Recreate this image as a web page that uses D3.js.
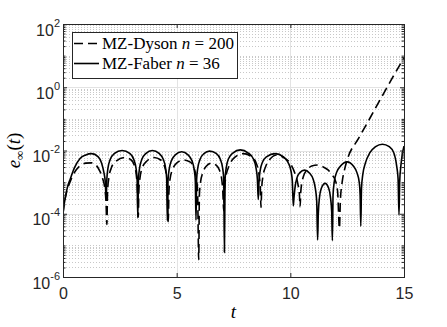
<!DOCTYPE html>
<html>
<head>
<meta charset="utf-8">
<script src="https://cdn.jsdelivr.net/npm/d3@7"></script>
<style>
  body { margin: 0; background: #fff; }
  .tick text { font-family: "Liberation Sans", Arial, sans-serif; font-size: 16px; fill: #262626; }
  .serif { font-family: "Liberation Serif", "Times New Roman", serif; fill: #000; }
</style>
</head>
<body>
<svg id="chart" width="447" height="327"></svg>
<script>
// values; errors are kept as log10(e) (decades)
var tDyson = [0,0.04,0.1,0.2,0.32,0.5,0.75,1.0,1.25,1.45,1.62,1.75,1.84,1.89,1.93,
  1.96,2.01,2.12,2.3,2.7,3.0,3.13,3.22,3.27,3.31,
  3.34,3.39,3.5,3.68,4.0,4.3,4.44,4.54,4.59,4.63,
  4.66,4.71,4.82,5.0,5.3,5.6,5.76,5.86,5.92,5.97,
  6.0,6.05,6.15,6.3,6.54,6.75,6.88,6.98,7.03,7.07,
  7.1,7.16,7.3,7.55,7.93,8.3,8.5,8.62,8.68,8.71,
  8.74,8.8,8.92,9.1,9.4,9.7,9.99,10.2,10.33,10.4,10.43,
  10.46,10.57,10.75,10.94,11.2,11.45,11.67,11.85,11.97,12.08,12.16,
  12.2,12.28,12.38,12.5,13.0,13.5,14.0,14.5,15.0];
var logDyson = [-4.0,-3.75,-3.5,-3.2,-2.98,-2.7,-2.48,-2.4,-2.39,-2.46,-2.65,-2.9,-3.2,-3.6,-4.34,
  -3.3,-2.9,-2.56,-2.36,-2.22,-2.3,-2.45,-2.75,-3.2,-4.1,
  -3.2,-2.85,-2.52,-2.34,-2.22,-2.3,-2.45,-2.75,-3.2,-4.25,
  -3.3,-2.9,-2.6,-2.4,-2.3,-2.37,-2.55,-2.85,-3.3,-5.45,
  -3.4,-3.0,-2.7,-2.5,-2.4,-2.47,-2.62,-2.9,-3.3,-3.9,
  -3.3,-2.85,-2.5,-2.22,-2.1,-2.2,-2.4,-2.75,-3.2,-3.8,
  -3.2,-2.8,-2.5,-2.28,-2.14,-2.22,-2.4,-2.72,-3.05,-3.4,-3.78,
  -3.3,-2.83,-2.6,-2.49,-2.46,-2.52,-2.62,-2.78,-2.93,-3.3,-4.46,
  -3.6,-3.0,-2.62,-2.3,-1.62,-0.98,-0.33,0.31,0.93];

var tFaber = [0,0.04,0.1,0.2,0.32,0.5,0.75,1.0,1.26,1.55,1.7,1.8,1.86,1.90,
  1.93,1.98,2.08,2.25,2.6,2.95,3.11,3.21,3.26,3.29,
  3.32,3.37,3.47,3.64,3.93,4.24,4.41,4.51,4.56,4.59,
  4.62,4.67,4.77,4.94,5.22,5.5,5.67,5.77,5.82,5.85,
  5.88,5.93,6.03,6.2,6.45,6.75,6.92,7.02,7.07,7.10,
  7.13,7.18,7.28,7.47,7.8,8.15,8.37,8.49,8.55,8.59,
  8.62,8.67,8.77,8.95,9.33,9.7,9.9,10.03,10.09,10.13,
  10.16,10.21,10.3,10.42,10.62,10.85,11.0,11.1,11.16,11.20,
  11.23,11.28,11.36,11.53,11.68,11.76,11.82,11.85,
  11.88,11.93,12.03,12.2,12.5,12.78,12.93,13.03,13.07,13.10,
  13.13,13.19,13.3,13.5,13.75,14.05,14.35,14.55,14.68,14.74,14.78,
  14.81,14.86,14.93,15.0];
var logFaber = [-4.0,-3.75,-3.5,-3.15,-2.9,-2.55,-2.25,-2.14,-2.1,-2.2,-2.4,-2.7,-3.0,-3.55,
  -2.9,-2.55,-2.28,-2.1,-2.0,-2.1,-2.28,-2.55,-2.9,-4.13,
  -2.9,-2.55,-2.28,-2.1,-2.0,-2.1,-2.28,-2.55,-2.9,-4.22,
  -2.95,-2.6,-2.32,-2.14,-2.04,-2.14,-2.32,-2.6,-2.95,-4.2,
  -2.9,-2.55,-2.28,-2.1,-2.02,-2.1,-2.28,-2.55,-2.9,-5.22,
  -2.9,-2.55,-2.26,-2.08,-1.98,-2.08,-2.26,-2.55,-2.9,-3.55,
  -3.0,-2.65,-2.38,-2.2,-2.1,-2.2,-2.38,-2.65,-3.0,-3.75,
  -3.5,-3.15,-2.85,-2.7,-2.62,-2.72,-2.9,-3.2,-3.6,-4.83,
  -4.0,-3.5,-3.2,-3.04,-3.18,-3.45,-3.95,-4.85,
  -3.4,-3.0,-2.7,-2.5,-2.36,-2.5,-2.7,-3.0,-3.4,-4.39,
  -3.2,-2.75,-2.4,-2.07,-1.88,-1.8,-1.88,-2.07,-2.5,-2.9,-4.04,
  -3.0,-2.5,-2.1,-1.86];

var xTicks = [0, 5, 10, 15];
var yDecades = [-6, -4, -2, 0, 2];   // labelled decades
var legendNames = ["MZ-Dyson ", "MZ-Faber "];
var legendN = ["200", "36"];

var svg = d3.select("#chart");
var plotL = 63, plotR = 404, plotT = 24, plotB = 277;

var x = d3.scaleLinear().domain([0, 15]).range([plotL, plotR]);
var y = d3.scaleLog().domain([1e-6, 1e2]).range([plotB, plotT]);

var majorY = yDecades.map(function(d) { return Math.pow(10, d); });
var minorY = [];
for (var d = -6; d < 2; d++) {
  for (var k = 1; k <= 9; k++) {
    if (k == 1 && d % 2 == 0) continue;
    minorY.push(k * Math.pow(10, d));
  }
}

// grid
var grid = svg.append("g");
grid.selectAll(".minor").data(minorY).enter().append("line")
    .attr("x1", plotL).attr("x2", plotR)
    .attr("y1", function(d) { return Math.round(y(d)) + 0.5; })
    .attr("y2", function(d) { return Math.round(y(d)) + 0.5; })
    .attr("stroke", "#c8c8c8").attr("stroke-width", 1)
    .attr("stroke-dasharray", "1,2");
grid.selectAll(".majy").data(majorY).enter().append("line")
    .attr("x1", plotL).attr("x2", plotR)
    .attr("y1", function(d) { return Math.round(y(d)) + 0.5; })
    .attr("y2", function(d) { return Math.round(y(d)) + 0.5; })
    .attr("stroke", "#e3e3e3").attr("stroke-width", 1);
grid.selectAll(".majx").data(xTicks).enter().append("line")
    .attr("y1", plotT).attr("y2", plotB)
    .attr("x1", function(d) { return Math.round(x(d)) + 0.5; })
    .attr("x2", function(d) { return Math.round(x(d)) + 0.5; })
    .attr("stroke", "#e3e3e3").attr("stroke-width", 1);

// curves
svg.append("clipPath").attr("id", "clip").append("rect")
    .attr("x", plotL).attr("y", plotT).attr("width", plotR - plotL).attr("height", plotB - plotT);

var line = d3.line()
    .x(function(d) { return x(d[0]); })
    .y(function(d) { return y(Math.pow(10, d[1])); })
    .curve(d3.curveMonotoneX);

var plot = svg.append("g").attr("clip-path", "url(#clip)");
plot.append("path")
    .datum(d3.zip(tDyson, logDyson))
    .attr("d", line)
    .attr("fill", "none").attr("stroke", "#000").attr("stroke-width", 1.6)
    .attr("stroke-dasharray", "9,5");
plot.append("path")
    .datum(d3.zip(tFaber, logFaber))
    .attr("d", line)
    .attr("fill", "none").attr("stroke", "#000").attr("stroke-width", 1.6);

// axes (ticks point inwards, box all round)
function noDomain(g) { g.select(".domain").remove(); g.selectAll(".tick line").attr("stroke", "#262626"); }

svg.append("g").attr("transform", "translate(0," + plotB + ")")
    .call(d3.axisBottom(x).tickValues(xTicks).tickSize(-4).tickPadding(11))
    .call(noDomain);
svg.append("g").attr("transform", "translate(0," + plotT + ")")
    .call(d3.axisTop(x).tickValues(xTicks).tickSize(-4).tickFormat(""))
    .call(noDomain);

var yl = svg.append("g").attr("transform", "translate(" + plotL + ",0)")
    .call(d3.axisLeft(y).tickValues(majorY).tickSize(-4).tickFormat(""))
    .call(noDomain);
svg.append("g").attr("transform", "translate(" + plotL + ",0)")
    .call(d3.axisLeft(y).tickValues(minorY).tickSize(-2.5).tickFormat(""))
    .call(noDomain);
svg.append("g").attr("transform", "translate(" + plotR + ",0)")
    .call(d3.axisRight(y).tickValues(majorY).tickSize(-4).tickFormat(""))
    .call(noDomain);
svg.append("g").attr("transform", "translate(" + plotR + ",0)")
    .call(d3.axisRight(y).tickValues(minorY).tickSize(-2.5).tickFormat(""))
    .call(noDomain);

// 10^k labels
yl.selectAll(".tick").append("text")
    .attr("x", -3).attr("y", 11)
    .attr("text-anchor", "end")
    .each(function(d) {
      var t = d3.select(this);
      t.append("tspan").text("10");
      t.append("tspan").attr("dy", -9).attr("font-size", "11px").text(Math.round(Math.log10(d)));
    });

svg.append("rect")
    .attr("x", plotL + 0.5).attr("y", plotT + 0.5)
    .attr("width", plotR - plotL).attr("height", plotB - plotT)
    .attr("fill", "none").attr("stroke", "#262626").attr("stroke-width", 1);

// axis titles
svg.append("text").attr("class", "serif")
    .attr("x", (plotL + plotR) / 2).attr("y", 318)
    .attr("text-anchor", "middle").attr("font-size", "19px").attr("font-style", "italic")
    .text("t");

var ylab = svg.append("text").attr("class", "serif")
    .attr("transform", "translate(20," + (plotT + plotB) / 2 + ") rotate(-90)")
    .attr("text-anchor", "middle").attr("font-size", "19px");
ylab.append("tspan").attr("font-style", "italic").text("e");
ylab.append("tspan").attr("dy", 4).attr("font-size", "13px").text("\u221e");
ylab.append("tspan").attr("dy", -4).text("(");
ylab.append("tspan").attr("font-style", "italic").text("t");
ylab.append("tspan").text(")");

// legend
var lg = svg.append("g");
lg.append("rect").attr("x", 72.5).attr("y", 32.5).attr("width", 165).attr("height", 46)
    .attr("fill", "#fff").attr("stroke", "#262626").attr("stroke-width", 1);
var rows = lg.selectAll(".row").data(legendNames).enter().append("g")
    .attr("transform", function(d, i) { return "translate(0," + (43.5 + i * 20) + ")"; });
rows.append("line").attr("x1", 74).attr("x2", 99).attr("y1", 0).attr("y2", 0)
    .attr("stroke", "#000").attr("stroke-width", 1.6)
    .attr("stroke-dasharray", function(d, i) { return i == 0 ? "9,5" : null; });
rows.append("text").attr("class", "serif").attr("x", 102).attr("y", 5.5)
    .attr("font-size", "17px")
    .each(function(d, i) {
      var t = d3.select(this);
      t.append("tspan").text(d);
      t.append("tspan").attr("font-style", "italic").text("n");
      t.append("tspan").text(" = " + legendN[i]);
    });
</script>
</body>
</html>
